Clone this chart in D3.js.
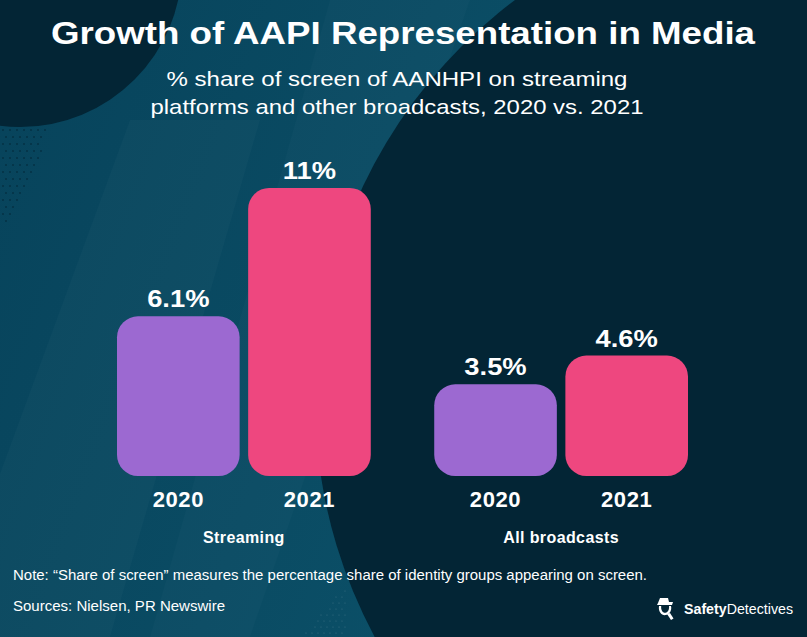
<!DOCTYPE html>
<html>
<head>
<meta charset="utf-8">
<script src="https://cdn.jsdelivr.net/npm/d3@7"></script>
<style>
  html, body { margin: 0; padding: 0; background: #032535; }
  svg { display: block; }
  text { font-family: "Liberation Sans", Arial, sans-serif; fill: #ffffff; }
</style>
</head>
<body>
<svg id="chart" width="807" height="637"></svg>
<script>
// ---- data ----
const groups = ["Streaming", "All broadcasts"];
const years = ["2020", "2021"];
const streamingValues = [6.1, 11];
const allBroadcastValues = [3.5, 4.6];
const valueLabels = [["6.1%", "11%"], ["3.5%", "4.6%"]];
const titleText = "Growth of AAPI Representation in Media";
const subtitleLines = ["% share of screen of AANHPI on streaming", "platforms and other broadcasts, 2020 vs. 2021"];
const noteText = "Note: \u201CShare of screen\u201D measures the percentage share of identity groups appearing on screen.";
const sourceText = "Sources: Nielsen, PR Newswire";

const seriesByGroup = [streamingValues, allBroadcastValues];
const yearColors = { "2020": "#9c69d1", "2021": "#ee477f" };

const W = 807, H = 637;
const svg = d3.select("#chart");

// ---- background ----
const defs = svg.append("defs");
const tealGrad = defs.append("linearGradient").attr("id", "teal")
  .attr("x1", "0").attr("y1", "0").attr("x2", "1").attr("y2", "0.3");
tealGrad.append("stop").attr("offset", "0").attr("stop-color", "#07435b");
tealGrad.append("stop").attr("offset", "0.5").attr("stop-color", "#0a4b63");
tealGrad.append("stop").attr("offset", "1").attr("stop-color", "#0c546c");

svg.append("rect").attr("width", W).attr("height", H).attr("fill", "url(#teal)");
// subtle lighter diagonal bands
svg.append("path").attr("d", "M130,120 L260,120 L110,637 L-60,637 Z").attr("fill", "#ffffff").attr("opacity", 0.025);
svg.append("path").attr("d", "M330,0 L470,0 L250,637 L150,637 Z").attr("fill", "#ffffff").attr("opacity", 0.02);
// top-left dark circle
svg.append("circle").attr("cx", 20).attr("cy", -35).attr("r", 162).attr("fill", "#032535");
// right big dark circle
svg.append("circle").attr("cx", 815).attr("cy", 400).attr("r", 500).attr("fill", "#032535");

// halftone dots (decorative)
const dotG = svg.append("g").attr("fill", "#032535");
for (let i = 0; i < 14; i++) {
  for (let j = 0; j < 10; j++) {
    const px = 3 + j * 7 + (i % 2) * 3;
    const py = 130 + i * 7;
    if (px < 50 - i * 3.2 + (j % 3)) dotG.append("circle").attr("cx", px).attr("cy", py).attr("r", 0.8);
  }
}
const dotG2 = svg.append("g").attr("fill", "#ffffff").attr("opacity", 0.18);
for (let i = 0; i < 9; i++) {
  for (let j = 0; j < 8; j++) {
    const px = 300 + j * 6 + (i % 2) * 3;
    const py = 585 + i * 6;
    if (px > 345 - i * 5) dotG2.append("circle").attr("cx", px).attr("cy", py).attr("r", 0.6);
  }
}

// ---- titles ----
svg.append("text").attr("x", 403).attr("y", 44)
  .attr("text-anchor", "middle").attr("font-weight", "bold").attr("font-size", 31.5)
  .attr("textLength", 704).attr("lengthAdjust", "spacingAndGlyphs")
  .text(titleText);

const subWidths = [461, 493];
svg.selectAll("text.sub").data(subtitleLines).join("text").attr("class", "sub")
  .attr("x", 397).attr("y", (d, i) => 86 + i * 28)
  .attr("text-anchor", "middle").attr("font-size", 21)
  .attr("textLength", (d, i) => subWidths[i]).attr("lengthAdjust", "spacingAndGlyphs")
  .text(d => d);

// ---- scales ----
const x0 = d3.scaleBand().domain(groups).range([117, 688]).paddingInner(0.2).paddingOuter(0);
const x1 = d3.scaleBand().domain(years).range([0, x0.bandwidth()]).paddingInner(0.065);
const y = d3.scaleLinear().domain([0, 11]).range([476, 188]);

const gGroups = svg.selectAll("g.group").data(groups).join("g").attr("class", "group")
  .attr("transform", d => `translate(${x0(d)},0)`);

gGroups.each(function (g, gi) {
  const sel = d3.select(this);
  const rows = years.map((yr, k) => ({ year: yr, value: seriesByGroup[gi][k], label: valueLabels[gi][k] }));
  sel.selectAll("rect").data(rows).join("rect")
    .attr("x", d => x1(d.year))
    .attr("y", d => y(d.value))
    .attr("width", x1.bandwidth())
    .attr("height", d => y(0) - y(d.value))
    .attr("rx", 21).attr("ry", 21)
    .attr("fill", d => yearColors[d.year]);
  sel.selectAll("text.val").data(rows).join("text").attr("class", "val")
    .attr("x", d => x1(d.year) + x1.bandwidth() / 2)
    .attr("y", d => y(d.value) - 9)
    .attr("text-anchor", "middle").attr("font-weight", "bold").attr("font-size", 24)
    .attr("transform", d => {
      const cx = x1(d.year) + x1.bandwidth() / 2;
      return `translate(${cx},0) scale(1.14,1) translate(${-cx},0)`;
    })
    .text(d => d.label);
  sel.selectAll("text.yr").data(rows).join("text").attr("class", "yr")
    .attr("x", d => x1(d.year) + x1.bandwidth() / 2)
    .attr("y", 507)
    .attr("text-anchor", "middle").attr("font-weight", "bold").attr("font-size", 22)
    .attr("letter-spacing", 0.6)
    .text(d => d.year);
  sel.append("text")
    .attr("x", x0.bandwidth() / 2)
    .attr("y", 543)
    .attr("text-anchor", "middle").attr("font-weight", "bold").attr("font-size", 16)
    .attr("letter-spacing", 0.4)
    .text(g);
});

// ---- footer ----
svg.append("text").attr("x", 13).attr("y", 580).attr("font-size", 14)
  .attr("textLength", 634).attr("lengthAdjust", "spacingAndGlyphs")
  .text(noteText);
svg.append("text").attr("x", 13).attr("y", 611).attr("font-size", 14)
  .attr("textLength", 212).attr("lengthAdjust", "spacingAndGlyphs")
  .text(sourceText);

// ---- logo ----
const logo = svg.append("g").attr("transform", "translate(655,597)");
logo.append("path").attr("d", "M3,6 L5,1 L13,1 L14,5 L18,5 L17,8 L2,8 Z").attr("fill", "#fff");
logo.append("path").attr("d", "M4,9 C3,15 7,19 11,18 C15,17 17,13 16,9 L14,9 C14.5,12 13,15.5 10.5,15.8 C7.5,16 5.8,13 6.2,9 Z").attr("fill", "#fff");
logo.append("path").attr("d", "M12,17 L16,23 L18.5,21.5 L15,16 Z").attr("fill", "#fff");
const lt = logo.append("text").attr("x", 29).attr("y", 17).attr("font-size", 15)
  .attr("textLength", 109).attr("lengthAdjust", "spacingAndGlyphs");
lt.append("tspan").attr("font-weight", "bold").text("Safety");
lt.append("tspan").attr("font-weight", "normal").text("Detectives");
</script>
</body>
</html>
